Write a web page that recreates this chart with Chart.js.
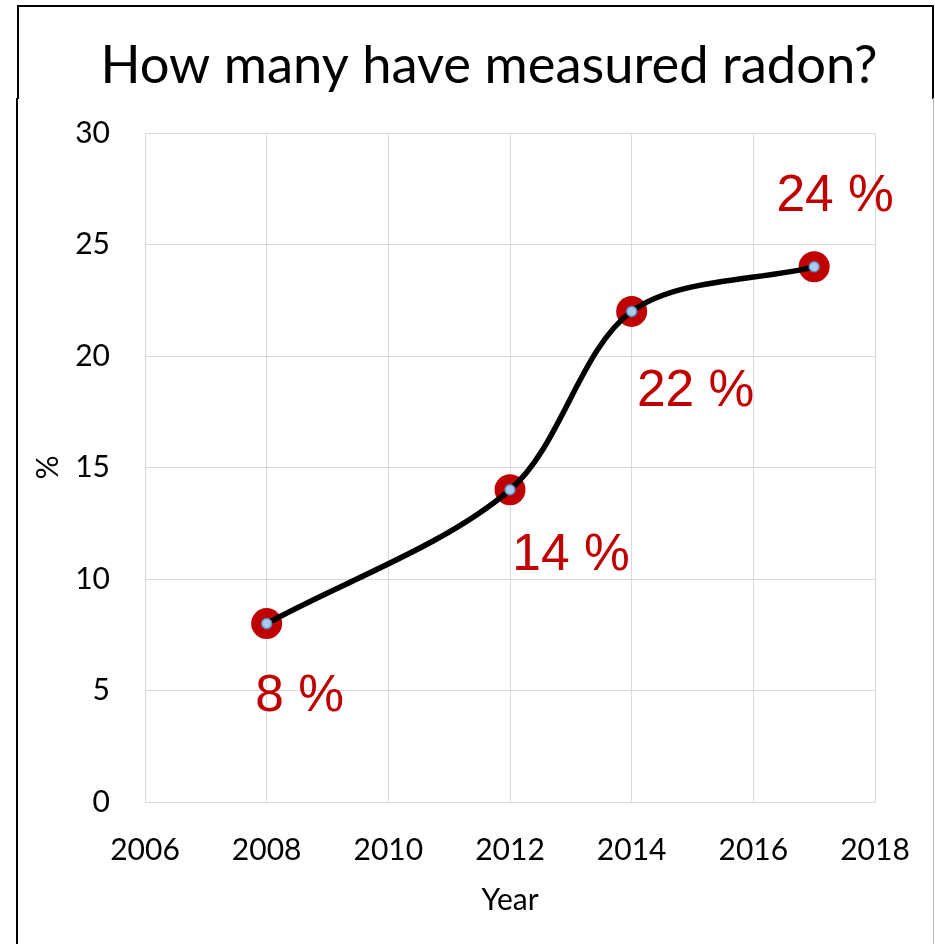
<!DOCTYPE html>
<html>
<head>
<meta charset="utf-8">
<script src="https://cdn.jsdelivr.net/npm/chart.js@4.4.1/dist/chart.umd.min.js"></script>
<style>
  html, body { margin: 0; padding: 0; background: #fff; }
  #wrap { position: relative; width: 935px; height: 944px; overflow: hidden; }
  #chart { position: absolute; left: 0; top: 0; }
  .frame { position: absolute; pointer-events: none; }
  #titleBox { left: 17px; top: 5px; width: 913px; height: 92px;
              border: 2px solid #000; border-bottom: none; }
  #leftEdge { left: 16px; top: 98px; width: 2px; height: 846px; background: #000; }
  #rightEdge { left: 933px; top: 98px; width: 1px; height: 846px; background: #b8b8b8; }
</style>
</head>
<body>
<div id="wrap">
  <canvas id="chart" width="935" height="944"></canvas>
  <div class="frame" id="titleBox"></div>
  <div class="frame" id="leftEdge"></div>
  <div class="frame" id="rightEdge"></div>
</div>
<script>
// Survey years and share of households that have measured radon (%)
const years = [2008, 2012, 2014, 2017];
const shares = [8, 14, 22, 24];
const valueLabels = ['8 %', '14 %', '22 %', '24 %'];
// Where each value label sits relative to its marker (px)
const labelOffsets = [[33, 69], [61, 62], [64, 77], [21, -74]];

const xTicks = [2006, 2008, 2010, 2012, 2014, 2016, 2018];
const yTicks = [0, 5, 10, 15, 20, 25, 30];
const chartTitle = 'How many have measured radon?';

const points = years.map((y, i) => ({ x: y, y: shares[i] }));
const RED = '#c00000';
const GRID = '#d9d9d9';
const UI_FONT = 'Lato';

// Title centred in its framed header band
const headerTitlePlugin = {
  id: 'headerTitle',
  afterDraw(chart) {
    const { ctx } = chart;
    ctx.save();
    ctx.fillStyle = '#000';
    ctx.font = '52.5px Lato, sans-serif';
    ctx.textAlign = 'center';
    ctx.textBaseline = 'alphabetic';
    ctx.fillText(chartTitle, 489, 83);
    ctx.restore();
  }
};

const valueLabelPlugin = {
  id: 'valueLabels',
  afterDatasetsDraw(chart) {
    const { ctx, scales } = chart;
    ctx.save();
    ctx.fillStyle = RED;
    ctx.font = '51.5px "Liberation Sans", Arial, sans-serif';
    ctx.textAlign = 'center';
    ctx.textBaseline = 'alphabetic';
    years.forEach((yr, i) => {
      const px = scales.x.getPixelForValue(yr);
      const py = scales.y.getPixelForValue(shares[i]);
      const [dx, dy] = labelOffsets[i];
      ctx.fillText(valueLabels[i], px + dx, py + dy + 18);
    });
    ctx.restore();
  }
};

new Chart(document.getElementById('chart'), {
  type: 'line',
  data: {
    datasets: [
      { // inner dot, on top
        data: points, order: 0, showLine: false,
        pointRadius: 5, pointBackgroundColor: '#a9cbec',
        pointBorderColor: '#5b8fc9', pointBorderWidth: 1.5
      },
      { // smoothed line
        data: points, order: 1, borderColor: '#000', borderWidth: 5.5,
        tension: 0.32, pointRadius: 0, fill: false, borderCapStyle: 'round'
      },
      { // red marker disc, underneath
        data: points, order: 2, showLine: false,
        pointRadius: 15.5, pointBackgroundColor: RED, pointBorderWidth: 0
      }
    ]
  },
  options: {
    responsive: false,
    animation: false,
    devicePixelRatio: 1,
    layout: { padding: { top: 133, left: 0, right: 60, bottom: 0 } },
    plugins: {
      legend: { display: false },
      tooltip: { enabled: false },
      title: { display: false }
    },
    scales: {
      x: {
        type: 'linear', min: 2006, max: 2018,
        afterBuildTicks(scale) { scale.ticks = xTicks.map(v => ({ value: v })); },
        afterFit(scale) {
          scale.height = 142;
          scale.paddingLeft = 0;
          scale.paddingRight = 0;
        },
        grid: { color: GRID, lineWidth: 1, drawTicks: false },
        border: { color: GRID, width: 1 },
        ticks: { color: '#000', padding: 30, maxRotation: 0,
                 font: { family: UI_FONT, size: 30 },
                 callback: v => String(v) },
        title: { display: true, text: 'Year', color: '#000',
                 font: { family: UI_FONT, size: 30 }, padding: { bottom: 26 } }
      },
      y: {
        min: 0, max: 30,
        afterBuildTicks(scale) { scale.ticks = yTicks.map(v => ({ value: v })); },
        afterFit(scale) { scale.width = 145; },
        grid: { color: GRID, lineWidth: 1, drawTicks: false },
        border: { color: GRID, width: 1 },
        ticks: { color: '#000', padding: 35,
                 font: { family: UI_FONT, size: 30 } },
        title: { display: true, text: '%', color: '#000',
                 font: { family: UI_FONT, size: 30 }, padding: { top: 30 } }
      }
    }
  },
  plugins: [valueLabelPlugin, headerTitlePlugin]
});
</script>
</body>
</html>
